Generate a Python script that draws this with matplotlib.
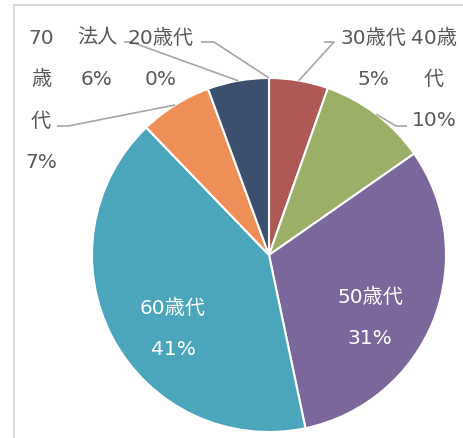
import numpy as np
import matplotlib
matplotlib.use("Agg")
import matplotlib.pyplot as plt

plt.rcParams['font.family'] = ['DejaVu Sans', 'Noto Sans CJK JP']

categories = ["20歳代", "30歳代", "40歳代", "50歳代", "60歳代", "70歳代", "法人"]
values = [0.0, 5.4, 9.9, 31.4, 41.1, 6.6, 5.6]
colors = ["#4F81BD", "#AF5957", "#9BAF68", "#7C679C", "#4BA6BB", "#EE8F58", "#3D4F6F"]

W, H = 464, 439
fig = plt.figure(figsize=(W / 100, H / 100), dpi=100)
ax = fig.add_axes([0, 0, 1, 1])

# chart frame (cropped)
ax.plot([14, 14, W + 5], [-5, H - 6, H - 6], color="#D9D9D9", lw=1.5, clip_on=False)

cx, cy, R = 269, H - 256, 177
wedges, _ = ax.pie(values, colors=colors, startangle=90, counterclock=False,
                   center=(cx, cy), radius=R,
                   wedgeprops=dict(edgecolor="white", linewidth=1.5))
ax.set_xlim(0, W)
ax.set_ylim(0, H)
ax.set_aspect('equal')
ax.axis('off')

txt = "#595959"
fs = 14.5
total = sum(values)
step = 41.5

def edge_point(w):
    a = np.deg2rad((w.theta1 + w.theta2) / 2)
    return cx + R * np.cos(a), cy + R * np.sin(a)

def pct(v):
    return f"{round(v / total * 100):.0f}%"

def draw_lines(lines, x, y0, color):
    for k, s in enumerate(lines):
        ax.text(x, H - (y0 + k * step), s, ha='center', va='center',
                fontsize=fs, color=color)

outside = {
    "70歳代": dict(lines=["70", "歳", "代", pct(values[5])], xy=(41, 38), elbow=[(57, 127), (68, 127)]),
    "法人": dict(lines=["法人", pct(values[6])], xy=(97, 38), elbow=[(124, 43), (131, 43)]),
    "20歳代": dict(lines=["20歳代", pct(values[0])], xy=(161, 38), elbow=[(201, 43), (214, 43)]),
    "30歳代": dict(lines=["30歳代", pct(values[1])], xy=(373, 38), elbow=[(324, 43), (334, 43)]),
    "40歳代": dict(lines=["40歳", "代", pct(values[2])], xy=(434, 38), elbow=[(407, 127), (396, 127)]),
}

for i, cat in enumerate(categories):
    w = wedges[i]
    if cat in outside:
        o = outside[cat]
        draw_lines(o["lines"], o["xy"][0], o["xy"][1], txt)
        ex, ey = edge_point(w)
        pts = [(p[0], H - p[1]) for p in o["elbow"]] + [(ex, ey)]
        ax.plot([p[0] for p in pts], [p[1] for p in pts], color="#A6A6A6", lw=1.2,
                solid_capstyle='butt')

inside = {"50歳代": (370, 297), "60歳代": (173, 308)}
for i, cat in enumerate(categories):
    if cat in inside:
        x, y = inside[cat]
        draw_lines([cat, pct(values[i])], x, y, "white")

fig.savefig("out.png", dpi=100)
